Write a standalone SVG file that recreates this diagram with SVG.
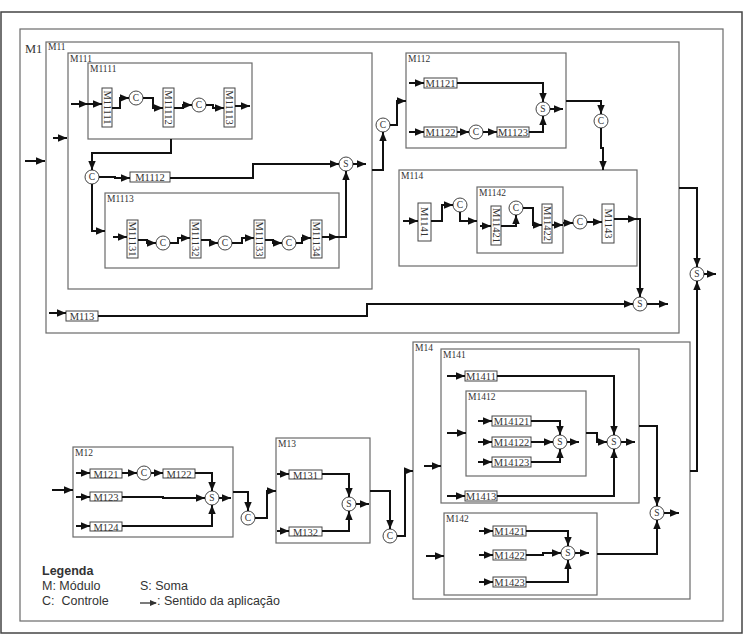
<svg xmlns="http://www.w3.org/2000/svg" width="743" height="635" viewBox="0 0 743 635">
<defs>
<marker id="a" markerUnits="userSpaceOnUse" markerWidth="10" markerHeight="9" refX="9" refY="4.5" orient="auto"><path d="M0,0.8 L9,4.5 L0,8.2 z" fill="#111"/></marker>
<style>
.frame{fill:none;stroke:#6a6a6a;stroke-width:1.2}
.lbl{font-family:"Liberation Serif",serif;font-size:9.5px;fill:#333}
.mod rect{fill:#fff;stroke:#444;stroke-width:1}
.mod text{font-family:"Liberation Serif",serif;font-size:10.5px;fill:#333;text-anchor:middle;dominant-baseline:central}
.op circle{fill:#fff;stroke:#444;stroke-width:1}
.op text{font-family:"Liberation Serif",serif;font-size:9.5px;fill:#333;text-anchor:middle;dominant-baseline:central}
.cn path{fill:none;stroke:#111;stroke-width:2;marker-end:url(#a)}
.leg{font-family:"Liberation Sans",Arial,sans-serif;font-size:12.5px;fill:#333}
</style>
</defs>
<rect x="1" y="12" width="741" height="621" fill="#fff" stroke="#444" stroke-width="1.5"/>

<g id="M1"><rect class="frame" x="20" y="29" width="703" height="592"/><text x="25" y="53" font-family="Liberation Serif,serif" font-size="12.5" fill="#333">M1</text></g>
<g id="M11"><rect class="frame" x="46" y="42" width="633" height="291"/><text class="lbl" x="48" y="50">M11</text></g>
<g id="M111"><rect class="frame" x="68" y="53" width="304" height="236"/><text class="lbl" x="70" y="62">M111</text></g>
<g id="M1111"><rect class="frame" x="88" y="63" width="164" height="76"/><text class="lbl" x="90" y="72">M1111</text></g>
<g id="M1113"><rect class="frame" x="105" y="193" width="234" height="75"/><text class="lbl" x="107" y="202">M1113</text></g>
<g id="M112"><rect class="frame" x="406" y="53" width="160" height="95"/><text class="lbl" x="408" y="62">M112</text></g>
<g id="M114"><rect class="frame" x="399" y="170" width="238" height="96"/><text class="lbl" x="401" y="179">M114</text></g>
<g id="M1142"><rect class="frame" x="477" y="187" width="86" height="66"/><text class="lbl" x="479" y="196">M1142</text></g>
<g id="M12"><rect class="frame" x="73" y="447" width="160" height="90"/><text class="lbl" x="75" y="456">M12</text></g>
<g id="M13"><rect class="frame" x="276" y="438" width="94" height="105"/><text class="lbl" x="278" y="447">M13</text></g>
<g id="M14"><rect class="frame" x="413" y="342" width="277" height="257"/><text class="lbl" x="415" y="351">M14</text></g>
<g id="M141"><rect class="frame" x="441" y="349" width="198" height="154"/><text class="lbl" x="443" y="358">M141</text></g>
<g id="M1412"><rect class="frame" x="466" y="391" width="120" height="85"/><text class="lbl" x="468" y="400">M1412</text></g>
<g id="M142"><rect class="frame" x="444" y="513" width="153" height="82"/><text class="lbl" x="446" y="522">M142</text></g>

<g class="mod">
<g id="M1112"><rect x="130" y="172" width="40" height="10"/><text x="150" y="177.5">M1112</text></g>
<g id="M113"><rect x="66" y="311" width="32" height="10"/><text x="82" y="316.5">M113</text></g>
<g id="M1121"><rect x="424" y="78" width="33" height="10"/><text x="440.5" y="83.5">M1121</text></g>
<g id="M1122"><rect x="424" y="127" width="33" height="10"/><text x="440.5" y="132.5">M1122</text></g>
<g id="M1123"><rect x="497" y="127" width="32" height="10"/><text x="513" y="132.5">M1123</text></g>
<g id="M1411"><rect x="465" y="371" width="32" height="10"/><text x="481" y="376.5">M1411</text></g>
<g id="M14121"><rect x="492" y="416" width="39" height="10"/><text x="511.5" y="421.5">M14121</text></g>
<g id="M14122"><rect x="492" y="437" width="39" height="10"/><text x="511.5" y="442.5">M14122</text></g>
<g id="M14123"><rect x="492" y="457" width="39" height="10"/><text x="511.5" y="462.5">M14123</text></g>
<g id="M1413"><rect x="465" y="491" width="32" height="10"/><text x="481" y="496.5">M1413</text></g>
<g id="M1421"><rect x="493" y="526" width="33" height="10"/><text x="509.5" y="531.5">M1421</text></g>
<g id="M1422"><rect x="493" y="550" width="33" height="10"/><text x="509.5" y="555.5">M1422</text></g>
<g id="M1423"><rect x="493" y="577" width="33" height="10"/><text x="509.5" y="582.5">M1423</text></g>
<g id="M121"><rect x="90" y="469" width="32" height="9"/><text x="106" y="474">M121</text></g>
<g id="M122"><rect x="163" y="469" width="32" height="9"/><text x="179" y="474">M122</text></g>
<g id="M123"><rect x="90" y="492" width="32" height="9"/><text x="106" y="497">M123</text></g>
<g id="M124"><rect x="90" y="522" width="32" height="9"/><text x="106" y="527">M124</text></g>
<g id="M131"><rect x="289" y="470" width="33" height="9"/><text x="305.5" y="475">M131</text></g>
<g id="M132"><rect x="289" y="527" width="33" height="9"/><text x="305.5" y="532">M132</text></g>

<g id="M11111"><rect x="102" y="88" width="10" height="39"/><text transform="translate(107,107.5) rotate(90)">M11111</text></g>
<g id="M11112"><rect x="163" y="88" width="11" height="39"/><text transform="translate(168.5,107.5) rotate(90)">M11112</text></g>
<g id="M11113"><rect x="224" y="88" width="11" height="39"/><text transform="translate(229.5,107.5) rotate(90)">M11113</text></g>
<g id="M11131"><rect x="127" y="220" width="11" height="38"/><text transform="translate(132.5,239) rotate(90)">M11131</text></g>
<g id="M11132"><rect x="190" y="220" width="11" height="38"/><text transform="translate(195.5,239) rotate(90)">M11132</text></g>
<g id="M11133"><rect x="254" y="220" width="11" height="38"/><text transform="translate(259.5,239) rotate(90)">M11133</text></g>
<g id="M11134"><rect x="311" y="220" width="11" height="38"/><text transform="translate(316.5,239) rotate(90)">M11134</text></g>
<g id="M1141"><rect x="418" y="203" width="13" height="38"/><text transform="translate(424.5,222) rotate(90)">M1141</text></g>
<g id="M11421"><rect x="491" y="206" width="10" height="39"/><text transform="translate(496,225.5) rotate(90)">M11421</text></g>
<g id="M11422"><rect x="542" y="204" width="10" height="39"/><text transform="translate(547,223.5) rotate(90)">M11422</text></g>
<g id="M1143"><rect x="602" y="204" width="12" height="39"/><text transform="translate(608,223.5) rotate(90)">M1143</text></g>
</g>

<g class="op">
<g id="C1"><circle cx="136" cy="98" r="7"/><text x="136" y="98">C</text></g>
<g id="C2"><circle cx="199" cy="105" r="7"/><text x="199" y="105">C</text></g>
<g id="C3"><circle cx="92" cy="177" r="7"/><text x="92" y="177">C</text></g>
<g id="S1"><circle cx="346" cy="164" r="7"/><text x="346" y="164">S</text></g>
<g id="C4"><circle cx="163" cy="243" r="7"/><text x="163" y="243">C</text></g>
<g id="C5"><circle cx="225" cy="243" r="7"/><text x="225" y="243">C</text></g>
<g id="C6"><circle cx="289" cy="243" r="7"/><text x="289" y="243">C</text></g>
<g id="C7"><circle cx="383" cy="125" r="7"/><text x="383" y="125">C</text></g>
<g id="S2"><circle cx="543" cy="109" r="7"/><text x="543" y="109">S</text></g>
<g id="C8"><circle cx="476" cy="132" r="7"/><text x="476" y="132">C</text></g>
<g id="C9"><circle cx="601" cy="121" r="7"/><text x="601" y="121">C</text></g>
<g id="C10"><circle cx="460" cy="205" r="7"/><text x="460" y="205">C</text></g>
<g id="C11"><circle cx="516" cy="208" r="7"/><text x="516" y="208">C</text></g>
<g id="C12"><circle cx="580" cy="222" r="7"/><text x="580" y="222">C</text></g>
<g id="S3"><circle cx="640" cy="304" r="7"/><text x="640" y="304">S</text></g>
<g id="S4"><circle cx="697" cy="274" r="7"/><text x="697" y="274">S</text></g>
<g id="S5"><circle cx="560" cy="442" r="7"/><text x="560" y="442">S</text></g>
<g id="S6"><circle cx="614" cy="442" r="7"/><text x="614" y="442">S</text></g>
<g id="S7"><circle cx="657" cy="513" r="7"/><text x="657" y="513">S</text></g>
<g id="S8"><circle cx="568" cy="553" r="7"/><text x="568" y="553">S</text></g>
<g id="C15"><circle cx="144" cy="473" r="7"/><text x="144" y="473">C</text></g>
<g id="S9"><circle cx="212" cy="498" r="7"/><text x="212" y="498">S</text></g>
<g id="C13"><circle cx="248" cy="518" r="7"/><text x="248" y="518">C</text></g>
<g id="S10"><circle cx="349" cy="504" r="7"/><text x="349" y="504">S</text></g>
<g id="C14"><circle cx="390" cy="536" r="7"/><text x="390" y="536">C</text></g>
</g>

<g id="connectors" class="cn">
<path d="M25,161 H45"/>
<path d="M53,138 H67"/>
<path d="M71,104 H88"/>
<path d="M88,104 H102"/>
<path d="M112,108 H120 V98 H129"/>
<path d="M143,98 H153 V108 H163"/>
<path d="M174,108 H183 V105 H192"/>
<path d="M206,105 H213 V108 H224"/>
<path d="M235,106 H250"/>
<path d="M171,139 V153 H92 V170"/>
<path d="M99,177 H115 V178 H130"/>
<path d="M170,178 H253 V164 H339"/>
<path d="M92,184 V231 H105"/>
<path d="M113,237 H127"/>
<path d="M138,240 H147 V243 H156"/>
<path d="M170,243 H178 V238 H190"/>
<path d="M201,240 H210 V243 H218"/>
<path d="M232,243 H242 V238 H254"/>
<path d="M265,240 H273 V243 H282"/>
<path d="M296,243 H302 V238 H311"/>
<path d="M322,237 H338"/>
<path d="M338,237 H346 V171"/>
<path d="M353,164 H366"/>
<path d="M372,170 H383 V132"/>
<path d="M390,125 H397 V101 H406"/>
<path d="M409,83 H424"/>
<path d="M409,132 H424"/>
<path d="M457,83 H543 V102"/>
<path d="M457,132 H469"/>
<path d="M483,132 H497"/>
<path d="M529,132 H543 V116"/>
<path d="M550,109 H563"/>
<path d="M566,101 H601 V114"/>
<path d="M601,128 V148 H603 V170"/>
<path d="M403,221 H418"/>
<path d="M431,221 H442 V205 H453"/>
<path d="M460,212 V221 H477"/>
<path d="M480,226 H491"/>
<path d="M501,226 H516 V215"/>
<path d="M523,208 H533 V225 H542"/>
<path d="M552,225 H563"/>
<path d="M563,223 H573"/>
<path d="M587,222 H602"/>
<path d="M614,219 H637"/>
<path d="M637,219 H640 V297"/>
<path d="M49,313 H66"/>
<path d="M98,316 H367 V304 H633"/>
<path d="M647,304 H668"/>
<path d="M679,188 H697 V267"/>
<path d="M704,274 H716"/>
<path d="M690,471 H697 V281"/>
<path d="M52,490 H73"/>
<path d="M76,473 H90"/>
<path d="M122,473 H137"/>
<path d="M151,473 H163"/>
<path d="M195,473 H212 V491"/>
<path d="M76,497 H90"/>
<path d="M122,497 H163 V498 H205"/>
<path d="M76,526 H90"/>
<path d="M122,526 H212 V505"/>
<path d="M219,498 H231"/>
<path d="M233,492 H248 V511"/>
<path d="M255,518 H267 V491 H276"/>
<path d="M277,474 H289"/>
<path d="M322,474 H349 V497"/>
<path d="M277,531 H289"/>
<path d="M322,531 H349 V511"/>
<path d="M356,504 H369"/>
<path d="M370,491 H390 V529"/>
<path d="M397,536 H405 V471 H413"/>
<path d="M424,466 H441"/>
<path d="M447,376 H465"/>
<path d="M497,376 H614 V435"/>
<path d="M447,433 H466"/>
<path d="M478,421 H492"/>
<path d="M531,421 H560 V435"/>
<path d="M478,442 H492"/>
<path d="M531,442 H553"/>
<path d="M478,462 H492"/>
<path d="M531,462 H560 V449"/>
<path d="M567,442 H579"/>
<path d="M586,433 H597 V442 H607"/>
<path d="M447,496 H465"/>
<path d="M497,496 H614 V449"/>
<path d="M621,442 H635"/>
<path d="M639,426 H657 V506"/>
<path d="M426,556 H444"/>
<path d="M479,531 H493"/>
<path d="M526,531 H568 V546"/>
<path d="M479,555 H493"/>
<path d="M526,555 H543 V553 H561"/>
<path d="M479,582 H493"/>
<path d="M526,582 H568 V560"/>
<path d="M575,553 H589"/>
<path d="M597,554 H657 V520"/>
<path d="M664,513 H679"/>
</g>

<g id="legend">
<text class="leg" x="42" y="575" font-weight="bold" fill="#222">Legenda</text>
<text class="leg" x="42" y="590">M: Módulo</text>
<text class="leg" x="140" y="590">S: Soma</text>
<text class="leg" x="42" y="605" xml:space="preserve">C:  Controle</text>
<path d="M140,603 H156" stroke="#333" stroke-width="1.3" fill="none"/>
<path d="M150,600 L157,603 L150,606 z" fill="#333"/>
<text class="leg" x="157" y="605">: Sentido da aplicação</text>
</g>
</svg>
